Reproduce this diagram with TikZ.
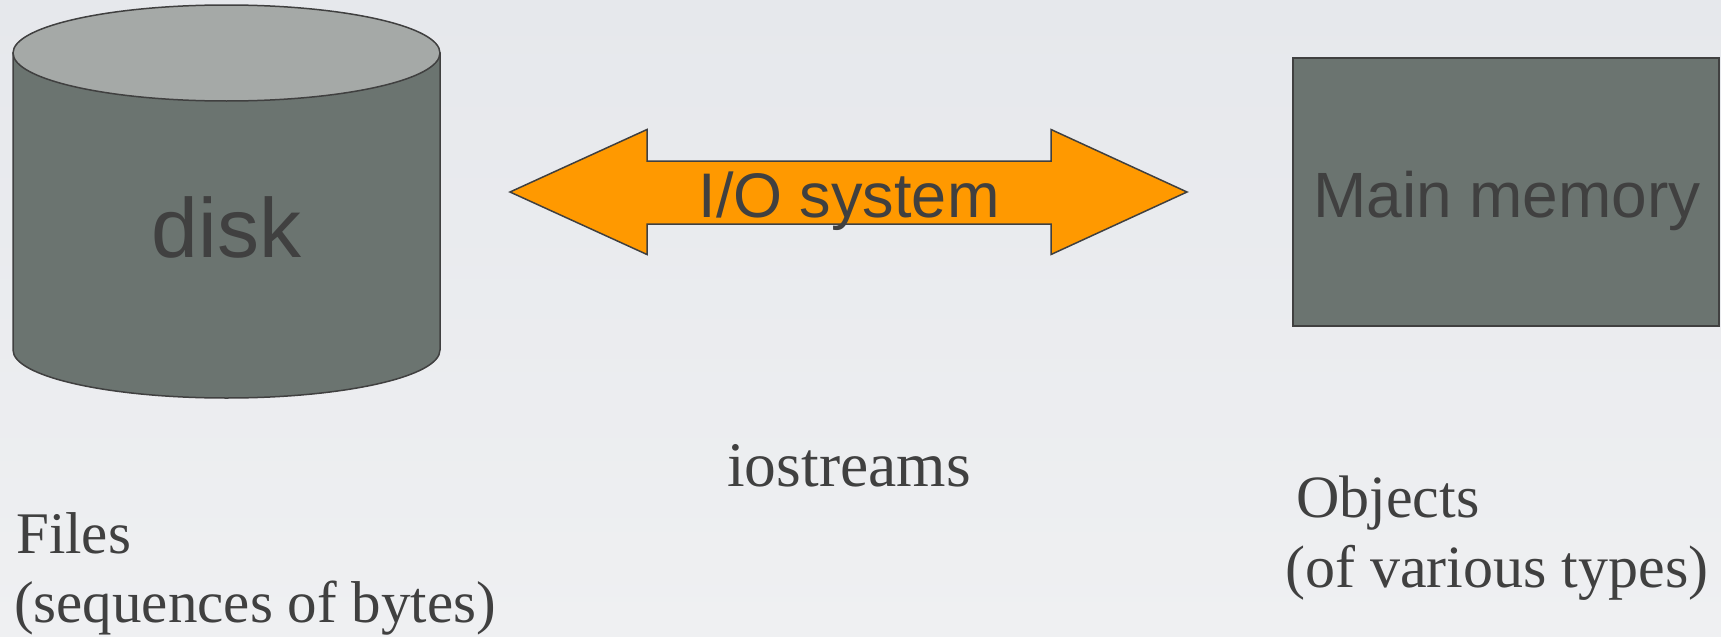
\documentclass[tikz,border=0pt]{standalone}
\usepackage{fontspec}
\setmainfont{Liberation Serif}
\setsansfont{Liberation Sans}
\definecolor{bgtop}{HTML}{E6E8EC}
\definecolor{bgbot}{HTML}{EFF0F2}
\definecolor{slate}{HTML}{6B7470}
\definecolor{slatetop}{HTML}{A5A9A7}
\definecolor{edge}{HTML}{404040}
\definecolor{ink}{HTML}{404040}
\definecolor{ioorange}{HTML}{FF9900}
\tikzset{
  shapeline/.style={draw=edge, line width=1.5pt},
  boxlabel/.style={inner sep=0pt, anchor=base, text=ink, font=\sffamily\fontsize{#1}{#1}\selectfont},
  note/.style={inner sep=0pt, anchor=base west, text=ink, font=\rmfamily\fontsize{#1}{#1}\selectfont},
}
\begin{document}
\begin{tikzpicture}[x=1pt, y=-1pt]
  % page background
  \shade[top color=bgtop, bottom color=bgbot] (0,0) rectangle (1721,637);
  \useasboundingbox (0,0) rectangle (1721,637);

  % disk drawn as a cylinder
  \filldraw[shapeline, fill=slate]
    (13,53) -- (13,350) arc[start angle=180, end angle=0, x radius=213.5, y radius=48]
    -- (440,53) -- cycle;
  \filldraw[shapeline, fill=slatetop] (226.5,53) ellipse[x radius=213.5, y radius=48];
  \node[boxlabel=84] (disk) at (226.5,257) {disk};

  % main memory box
  \node[shapeline, fill=slate, minimum width=426pt, minimum height=268pt, inner sep=0pt]
    (mem) at (1506,192) {};
  \node[boxlabel=64] (memlabel) at (1507,217) {Main memory};

  % two-headed I/O arrow
  \filldraw[shapeline, fill=ioorange, line join=miter]
    (510,192) -- (647,129.5) -- (647,161) -- (1051,161) -- (1051,129.5)
    -- (1187,192) -- (1051,254.5) -- (1051,224) -- (647,224) -- (647,254.5) -- cycle;
  \node[boxlabel=63] (io) at (849,217) {I/O system};

  % captions
  \node[note=63.5, anchor=base] (iostreams) at (849,486) {iostreams};
  \node[note=59] (files) at (16,553) {Files};
  \node[note=59] (filesnote) at (14,622) {(sequences of bytes)};
  \node[note=60] (objects) at (1296,517) {Objects};
  \node[note=60] (objectsnote) at (1285,587) {(of various types)};
\end{tikzpicture}
\end{document}
